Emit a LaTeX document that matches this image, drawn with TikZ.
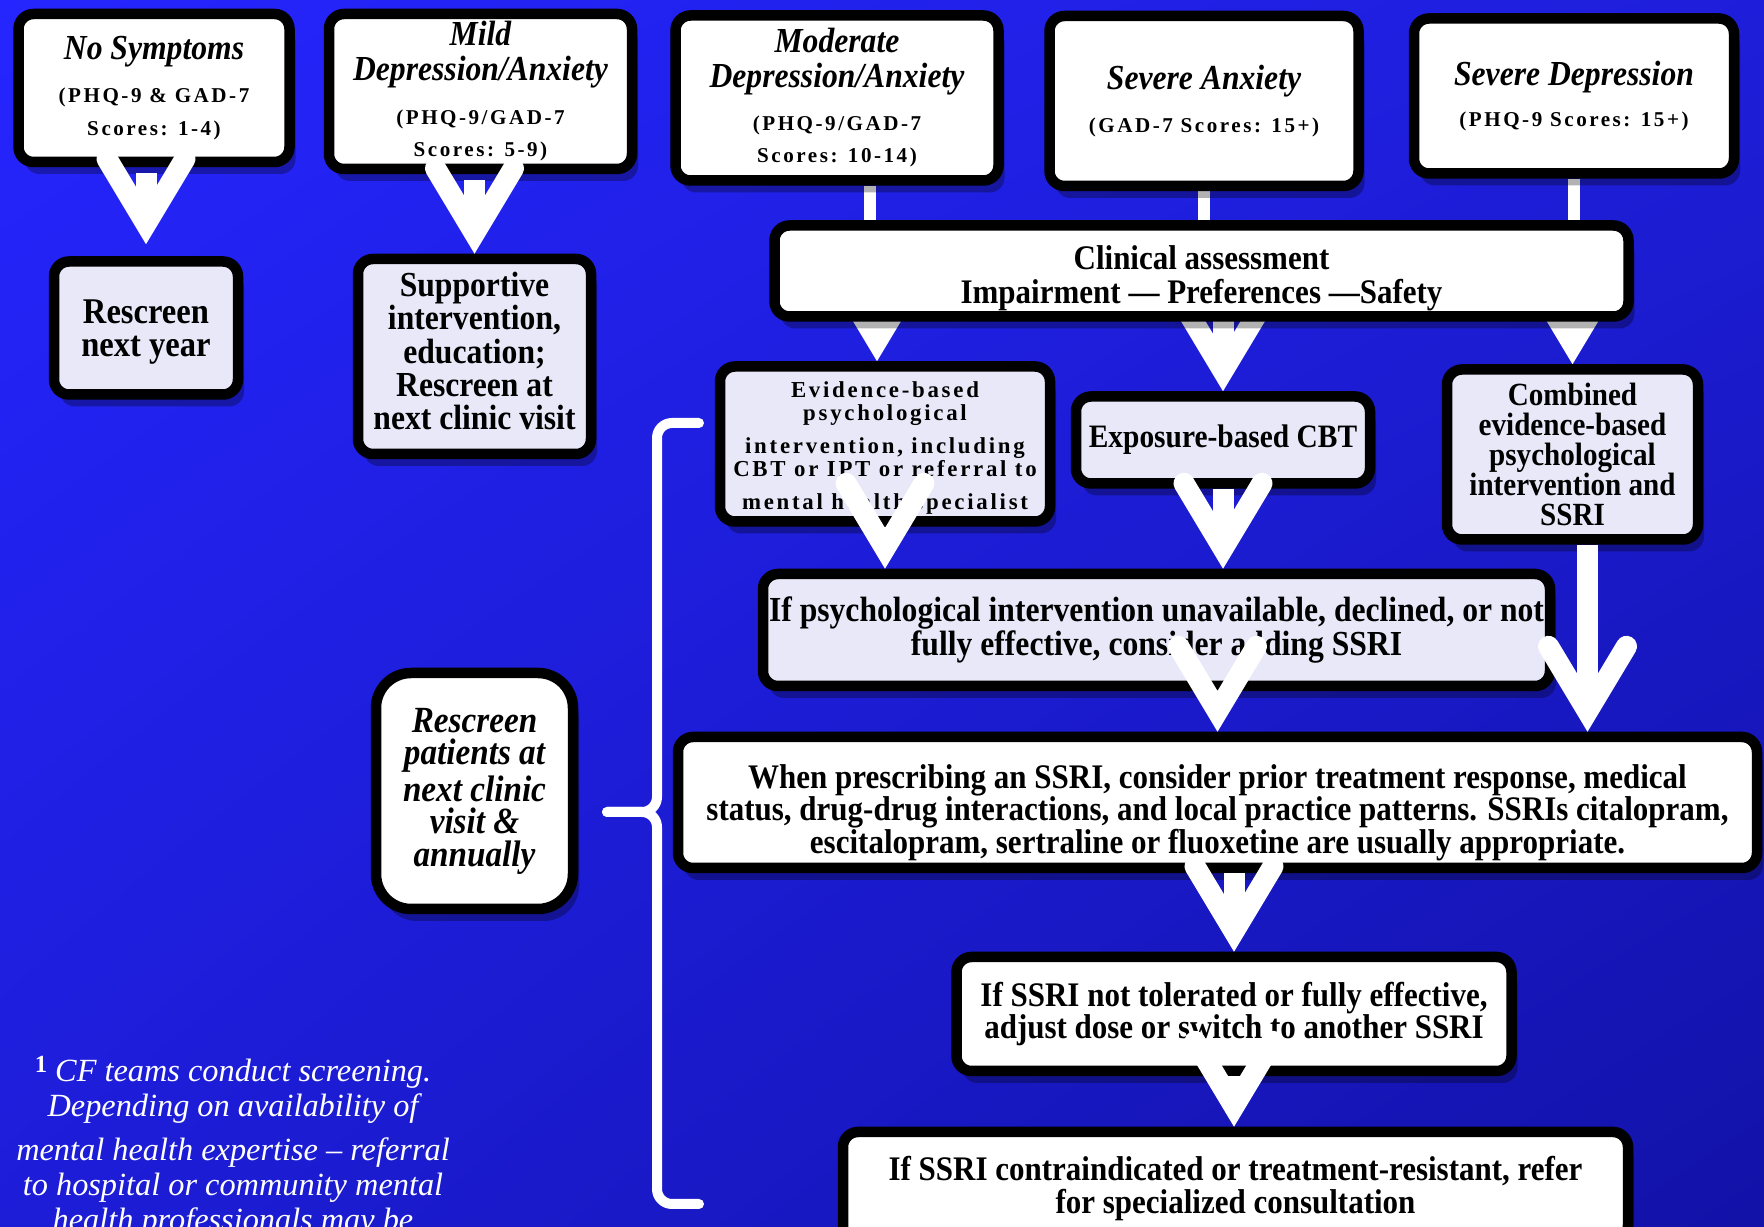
\documentclass[tikz,border=0pt]{standalone}
\usepackage{fontspec}
\setmainfont{Liberation Serif}
\newfontfamily\condfont{Liberation Serif}[FakeStretch=0.9]
\newfontfamily\spacedfont{Liberation Serif}[LetterSpace=12]
\usepackage{tikz}
\usetikzlibrary{arrows.meta,backgrounds,shadows,shadings}
\definecolor{lav}{HTML}{E8E8F8}
\definecolor{bgA}{HTML}{2525FF}
\definecolor{bgB}{HTML}{1E1EDA}
\definecolor{bgC}{HTML}{1D1DD8}
\definecolor{bgD}{HTML}{1212A8}
\pgfdeclarelayer{behind}
\pgfsetlayers{background,behind,main}
\newcommand{\fsz}[2]{\fontsize{#1}{#2}\selectfont}
\newcommand{\scores}[1]{{\spacedfont\bfseries\upshape\fsz{6}{6}#1}}
\newcommand{\padtop}[1]{\rule{0pt}{#1}}
\newcommand{\padbot}[1]{\rule[-#1]{0pt}{#1}}
\tikzset{
  box/.style={draw=black,line width=1.05mm,rounded corners=1.5mm,fill=white,align=center,inner sep=0.4mm,
    font=\condfont\bfseries\fsz{9.8}{9.3},
    drop shadow={shadow xshift=0.6mm,shadow yshift=-1.2mm,opacity=0.3,fill=black}},
  lbox/.style={box,fill=lav},
  tbox/.style={box,font=\condfont\bfseries\itshape\fsz{10}{9.9}},
  ebox/.style={lbox,font=\spacedfont\bfseries\fsz{6.5}{6.5}},
  bigarr/.style={draw=white,line width=2.1mm,-{Straight Barb[length=6.5mm,width=7.8mm,line cap=round,line join=miter]}},
  link/.style={draw=white,line width=1.25mm},
  bracel/.style={draw=white,line width=1mm,line cap=round,rounded corners=1.5mm},
  foot/.style={text=white,align=center,inner sep=0pt,font=\itshape\fsz{9.2}{9.95}},
}
\begin{document}
\begin{tikzpicture}[x=0.1mm,y=-0.1mm]
\useasboundingbox (0,0) rectangle (1764,1227);
\begin{pgfonlayer}{background}
\shade[upper left=bgA,upper right=bgB,lower left=bgC,lower right=bgD] (0,0) rectangle (1764,1227);
\end{pgfonlayer}
% severity boxes
\node[tbox,minimum width=27.1mm,minimum height=14.8mm] (nosym) at (154,88)
  {No Symptoms\\[0.8mm]\scores{(PHQ-9 \& GAD-7}\\[-0.2mm]\scores{Scores: 1-4)}};
\node[tbox,minimum width=30.3mm,minimum height=15.5mm] (mild) at (480.5,91.5)
  {Mild\\Depression/Anxiety\\[0.85mm]\scores{(PHQ-9/GAD-7}\\[-0.2mm]\scores{Scores: 5-9)}};
\node[tbox,minimum width=32.3mm,minimum height=16.5mm] (moder) at (837,98)
  {Moderate\\Depression/Anxiety\\[0.75mm]\scores{(PHQ-9/GAD-7}\\[-0.2mm]\scores{Scores: 10-14)}};
\node[tbox,minimum width=30.9mm,minimum height=17mm] (sevanx) at (1204,101)
  {Severe Anxiety\\[0.9mm]\scores{(GAD-7 Scores: 15+)}};
\node[tbox,minimum width=32mm,minimum height=15.5mm] (sevdep) at (1574,96)
  {Severe Depression\\[0.7mm]\scores{(PHQ-9 Scores: 15+)}};
% first steps
\node[lbox,minimum width=18.4mm,minimum height=13.3mm,font=\condfont\bfseries\fsz{10.3}{9.3}] (rescr) at (146,328)
  {\padtop{3.2mm}Rescreen\\next year};
\node[lbox,minimum width=23.3mm,minimum height=19.5mm,font=\condfont\bfseries\fsz{10}{9.5}] (support) at (474.5,356.5)
  {Supportive\\intervention,\\education;\\Rescreen at\\next clinic visit\padbot{1.1mm}};
\node[box,minimum width=85.4mm,minimum height=9.1mm,font=\condfont\bfseries\fsz{9.8}{9.7}] (clin) at (1201.5,271)
  {\padtop{3.8mm}Clinical assessment\\Impairment — Preferences —Safety};
\node[ebox,minimum width=33mm,minimum height=15.5mm] (evid) at (885,444)
  {\padtop{2.4mm}Evidence-based\\psychological\\[1.05mm]intervention, including\\CBT or IPT or referral to\\[1.05mm]mental health specialist};
\node[lbox,minimum width=29.4mm,minimum height=8.7mm,font=\condfont\bfseries\fsz{9.3}{9.3}] (expo) at (1223,440)
  {Exposure-based CBT};
\node[lbox,minimum width=25.1mm,minimum height=17mm,font=\condfont\bfseries\fsz{9.2}{8.5}] (comb) at (1572.5,454.5)
  {Combined\\evidence-based\\psychological\\intervention and\\SSRI};
\node[lbox,minimum width=78.7mm,minimum height=11.2mm,font=\condfont\bfseries\fsz{10}{9.9}] (ifpsy) at (1156.5,630)
  {If psychological intervention unavailable, declined, or not\\fully effective, consider adding SSRI};
\node[box,minimum width=107.9mm,minimum height=13.1mm] (when) at (1217.5,802.5)
  {\padtop{4.4mm}When prescribing an SSRI, consider prior treatment response, medical\\status, drug-drug interactions, and local practice patterns. SSRIs citalopram,\\escitalopram, sertraline or fluoxetine are usually appropriate.};
\node[box,minimum width=55.5mm,minimum height=11.4mm] (notol) at (1234,1014)
  {If SSRI not tolerated or fully effective,\\adjust dose or switch to another SSRI};
\node[box,minimum width=78.5mm,minimum height=10.8mm] (contra) at (1235.5,1186)
  {\padtop{3mm}If SSRI contraindicated or treatment-resistant, refer\\for specialized consultation};
\node[box,rounded corners=3.5mm,minimum width=19.7mm,minimum height=23.6mm,font=\condfont\bfseries\itshape\fsz{10.5}{9.2}] (rescpat) at (474.5,791)
  {Rescreen\\patients at\\next clinic\\visit \&\\annually\padbot{0.8mm}};
% footnote
\node[foot,anchor=north] (fn) at (233,1056)
  {\raisebox{0.9mm}{\upshape\bfseries\fsz{7}{7}1} CF teams conduct screening.\\Depending on availability of\\[0.9mm]mental health expertise – referral\\to hospital or community mental\\health professionals may be};
% brace
\coordinate (brT) at (699,423);
\coordinate (brM) at (607,812);
\coordinate (brB) at (699,1204);
\draw[bracel] (brT) -- (657,423) -- (657,812) -- (brM);
\draw[bracel] (brM) -- (657,812) -- (657,1204) -- (brB);
% links behind the assessment box
\begin{pgfonlayer}{behind}
\draw[link] ([xshift=3.3mm]moder.south) -- ([xshift=3.3mm]moder.south |- clin.center);
\draw[link] (sevanx.south) -- (sevanx.south |- clin.center);
\draw[link] (sevdep.south) -- (sevdep.south |- clin.center);
\draw[bigarr] ([xshift=-0.8mm]evid.north |- clin.center) -- ([xshift=-0.8mm]evid.north);
\draw[bigarr] (expo.north |- clin.center) -- (expo.north);
\draw[bigarr] (comb.north |- clin.center) -- (comb.north);
\end{pgfonlayer}
% arrows on top
\draw[bigarr,shorten <=0.6mm,shorten >=1.2mm] (nosym.south -| rescr.north) -- (rescr.north);
\draw[bigarr,shorten <=0.6mm] (mild.south -| support.north) -- (support.north);
\draw[bigarr] (evid.south) -- (evid.south |- ifpsy.north);
\draw[bigarr] (expo.south) -- (expo.south |- ifpsy.north);
\draw[bigarr] (ifpsy.south -| when.north) -- (when.north);
\draw[bigarr] ([xshift=1.5mm]comb.south) -- ([xshift=1.5mm]comb.south |- when.north);
\draw[bigarr] (when.south -| notol.north) -- (notol.north);
\draw[bigarr] (notol.south) -- (notol.south |- contra.north);
\end{tikzpicture}
\end{document}
